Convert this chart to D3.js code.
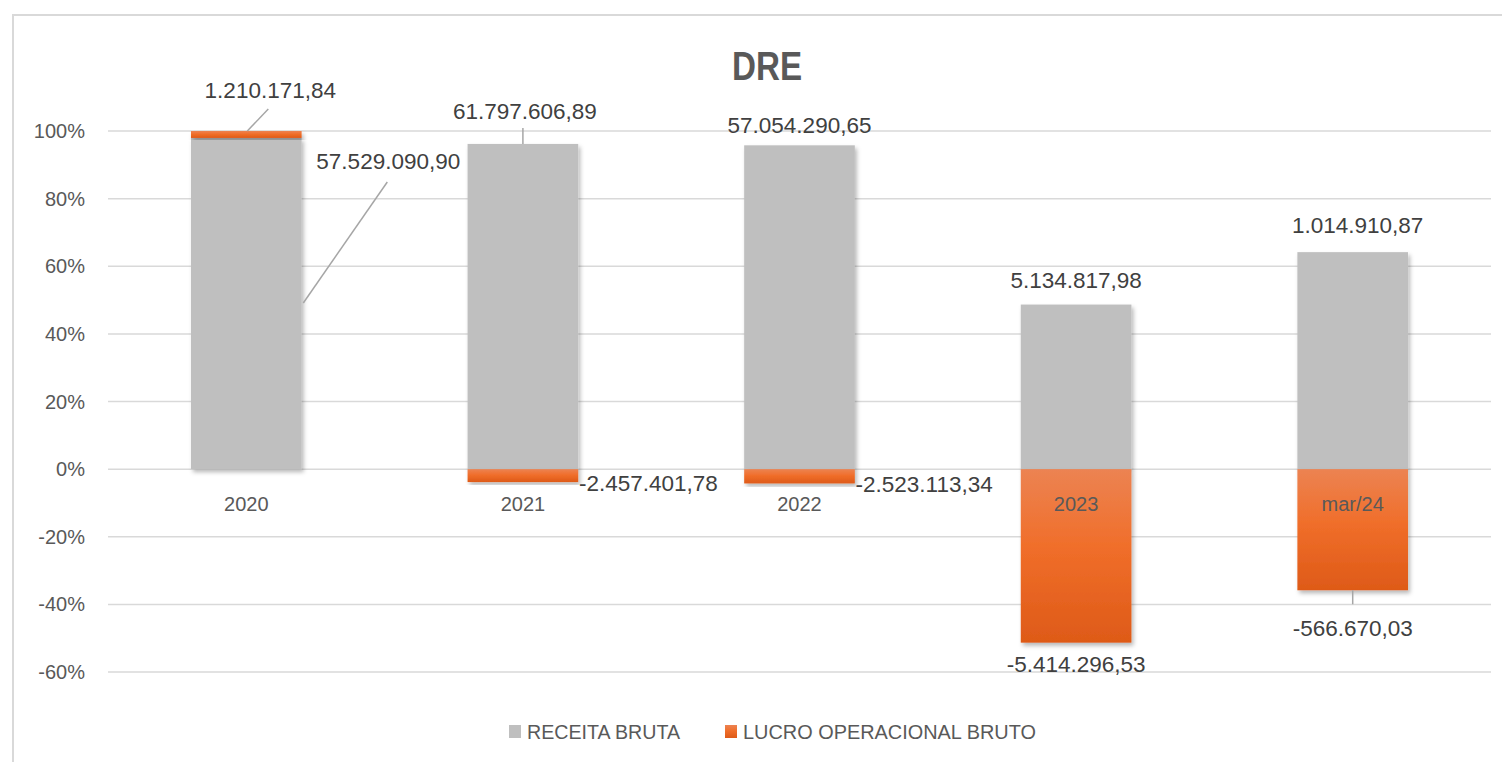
<!DOCTYPE html>
<html><head><meta charset="utf-8">
<script src="https://cdn.jsdelivr.net/npm/d3@7"></script>
<style>html,body{margin:0;padding:0;background:#fff;}svg{display:block;font-family:"Liberation Sans",Arial,sans-serif;}</style>
</head><body>
<script>
const categories = ["2020","2021","2022","2023","mar/24"];
const receitaBruta = [57529090.90, 61797606.89, 57054290.65, 5134817.98, 1014910.87];
const lucroOperacional = [1210171.84, -2457401.78, -2523113.34, -5414296.53, -566670.03];
const yTicks = [-0.6,-0.4,-0.2,0,0.2,0.4,0.6,0.8,1.0];
const seriesNames = ["RECEITA BRUTA","LUCRO OPERACIONAL BRUTO"];

const W=1502,H=762;
const svg=d3.select("body").append("svg").attr("width",W).attr("height",H);
const defs=svg.append("defs");
const f=defs.append("filter").attr("id","sh").attr("x","-10%").attr("y","-10%").attr("width","130%").attr("height","130%");
f.append("feDropShadow").attr("dx",2).attr("dy",3).attr("stdDeviation",2.2).attr("flood-color","#000").attr("flood-opacity",0.28);
const g=defs.append("linearGradient").attr("id","og").attr("x1",0).attr("y1",0).attr("x2",0).attr("y2",1);
g.append("stop").attr("offset","0%").attr("stop-color","#EC8352");
g.append("stop").attr("offset","45%").attr("stop-color","#F06E2A");
g.append("stop").attr("offset","100%").attr("stop-color","#DE5A18");

// chart border
svg.append("rect").attr("x",13).attr("y",15).attr("width",1520).attr("height",780).attr("fill","none").attr("stroke","#D9D9D9").attr("stroke-width",2);

const x=d3.scaleBand().domain(categories).range([108,1491]).paddingInner(0.6).paddingOuter(0.3);
const y=d3.scaleLinear().domain([-0.6,1.0]).range([672,131]);

// grid
svg.append("g").selectAll("line").data(yTicks).join("line")
  .attr("x1",108).attr("x2",1491).attr("y1",d=>y(d)).attr("y2",d=>y(d))
  .attr("stroke","#D9D9D9").attr("stroke-width",1.5);

// y axis labels
const fmtPct=d3.format(".0%");
svg.append("g").selectAll("text").data(yTicks).join("text")
  .attr("x",85).attr("y",d=>y(d)).attr("dy","0.35em").attr("text-anchor","end")
  .attr("font-size",20).attr("fill","#595959").text(d=>fmtPct(d).replace("−","-"));

// data (Excel 100% stacked: share of the sum of absolute values)
const data=categories.map((c,i)=>{
  const tot=Math.abs(receitaBruta[i])+Math.abs(lucroOperacional[i]);
  return {c,r:receitaBruta[i],l:lucroOperacional[i],rp:receitaBruta[i]/tot,lp:lucroOperacional[i]/tot};
});

const bars=svg.append("g");
bars.selectAll("rect.r").data(data).join("rect").attr("class","r")
  .attr("x",d=>x(d.c)).attr("width",x.bandwidth())
  .attr("y",d=>y(d.rp)).attr("height",d=>y(0)-y(d.rp))
  .attr("fill","#BFBFBF").attr("filter","url(#sh)");
bars.selectAll("rect.l").data(data).join("rect").attr("class","l")
  .attr("x",d=>x(d.c)).attr("width",x.bandwidth())
  .attr("y",d=>d.lp>=0?y(d.rp+d.lp):y(0))
  .attr("height",d=>d.lp>=0?y(d.rp)-y(d.rp+d.lp):y(d.lp)-y(0))
  .attr("fill","url(#og)").attr("filter","url(#sh)");

// category labels
svg.append("g").selectAll("text").data(categories).join("text")
  .attr("x",d=>x(d)+x.bandwidth()/2).attr("y",y(0)+35).attr("dy","0.35em")
  .attr("text-anchor","middle").attr("font-size",20).attr("fill","#595959").text(d=>d);

// value labels
const fmt=v=>{
  const s=Math.abs(v).toFixed(2).split(".");
  const int=s[0].replace(/\B(?=(\d{3})+(?!\d))/g,".");
  return (v<0?"-":"")+int+","+s[1];
};
const rOff=[
  {dx:142,dy:23,a:"middle",lead:[[141,44],[57,165]]},
  {dx:2,dy:-33,a:"middle",lead:[[0,-16],[0,0]]},
  {dx:0,dy:-20,a:"middle"},
  {dx:0,dy:-24,a:"middle"},
  {dx:5,dy:-27,a:"middle"}
];
const lOff=[
  {dx:24,dy:-41,a:"middle",lead:[[22,-22],[1,0]]},
  {dx:56,dy:1,a:"start"},
  {dx:56,dy:1,a:"start"},
  {dx:0,dy:21,a:"middle"},
  {dx:0,dy:38,a:"middle",lead:[[0,0],[0,14]]}
];
const lab=svg.append("g");
data.forEach((d,i)=>{
  const cx=x(d.c)+x.bandwidth()/2;
  const ry=y(d.rp);
  const ly=d.lp>=0?y(d.rp+d.lp):y(d.lp);
  [[rOff[i],ry,d.r],[lOff[i],ly,d.l]].forEach(([o,by,v])=>{
    if(o.lead){
      lab.append("line").attr("x1",cx+o.lead[0][0]).attr("y1",by+o.lead[0][1])
        .attr("x2",cx+o.lead[1][0]).attr("y2",by+o.lead[1][1])
        .attr("stroke","#A6A6A6").attr("stroke-width",1.5);
    }
    lab.append("text").attr("x",cx+o.dx).attr("y",by+o.dy).attr("dy","0.35em")
      .attr("text-anchor",o.a).attr("font-size",22.5).attr("fill","#404040").text(fmt(v));
  });
});

// title
svg.append("text").attr("x",767).attr("y",66).attr("dy","0.35em").attr("text-anchor","middle")
  .attr("font-size",40).attr("font-weight","bold").attr("fill","#595959")
  .attr("textLength",70).attr("lengthAdjust","spacingAndGlyphs").text("DRE");

// legend
const leg=svg.append("g");
const legItems=[{n:seriesNames[0],fill:"#BFBFBF",sx:509,tx:527,tl:153},{n:seriesNames[1],fill:"url(#og)",sx:725,tx:743,tl:293}];
legItems.forEach(it=>{
  leg.append("rect").attr("x",it.sx).attr("y",725).attr("width",12).attr("height",13).attr("fill",it.fill);
  leg.append("text").attr("x",it.tx).attr("y",731.5).attr("dy","0.35em").attr("font-size",20).attr("fill","#595959")
    .attr("textLength",it.tl).attr("lengthAdjust","spacingAndGlyphs").text(it.n);
});
</script>
</body></html>
